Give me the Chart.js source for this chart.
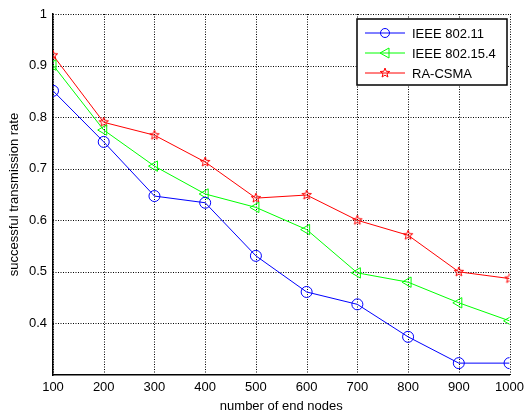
<!DOCTYPE html>
<html>
<head>
<meta charset="utf-8">
<script src="https://cdn.jsdelivr.net/npm/chart.js@4/dist/chart.umd.min.js"></script>
<style>
  html, body { margin: 0; padding: 0; background: #fff; }
  #wrap { width: 529px; height: 418px; }
</style>
</head>
<body>
<div id="wrap"><canvas id="lineChart" width="529" height="418"></canvas></div>
<script>
const nodes = [100, 200, 300, 400, 500, 600, 700, 800, 900, 1000];
const ieee80211 = [0.851, 0.752, 0.647, 0.634, 0.531, 0.461, 0.437, 0.374, 0.323, 0.323];
const ieee802154 = [0.901, 0.775, 0.705, 0.651, 0.625, 0.582, 0.498, 0.480, 0.440, 0.405];
const raCsma = [0.920, 0.790, 0.765, 0.713, 0.643, 0.649, 0.600, 0.571, 0.500, 0.487];
const seriesNames = ["IEEE 802.11", "IEEE 802.15.4", "RA-CSMA"];
const yTicks = [0.4, 0.5, 0.6, 0.7, 0.8, 0.9, 1];

const FONT = "Liberation Sans, Arial, sans-serif";

// five-pointed star outline, MATLAB 'p' marker
function makeStar(color, r) {
  const c = document.createElement('canvas');
  const s = Math.ceil(r * 2 + 4);
  c.width = s; c.height = s;
  const g = c.getContext('2d');
  g.strokeStyle = color;
  g.lineWidth = 1;
  g.beginPath();
  for (let i = 0; i < 10; i++) {
    const rr = i % 2 === 0 ? r : r * 0.42;
    const a = -Math.PI / 2 + i * Math.PI / 5;
    const px = s / 2 + rr * Math.cos(a), py = s / 2 + rr * Math.sin(a);
    if (i === 0) g.moveTo(px, py); else g.lineTo(px, py);
  }
  g.closePath();
  g.stroke();
  return c;
}
const starRed = makeStar('#ff0000', 5);

const legendBox = {
  id: 'legendBox',
  afterDraw(chart) {
    const g = chart.ctx;
    const x0 = 357, y0 = 19, w = 150, h = 66;
    g.save();
    g.fillStyle = '#fff';
    g.fillRect(x0, y0, w, h);
    g.strokeStyle = '#000';
    g.lineWidth = 1.5;
    g.strokeRect(x0, y0, w, h);
    const rows = [
      { name: seriesNames[0], color: '#0000ff', mark: 'circle' },
      { name: seriesNames[1], color: '#00ff00', mark: 'tri' },
      { name: seriesNames[2], color: '#ff0000', mark: 'star' }
    ];
    rows.forEach((r, i) => {
      const y = y0 + 14 + i * 20;
      g.strokeStyle = r.color;
      g.lineWidth = 1;
      g.beginPath(); g.moveTo(365, y); g.lineTo(405, y); g.stroke();
      if (r.mark === 'circle') {
        g.beginPath(); g.arc(385, y, 4.5, 0, Math.PI * 2); g.stroke();
      } else if (r.mark === 'tri') {
        g.beginPath(); g.moveTo(380, y); g.lineTo(389, y - 5); g.lineTo(389, y + 5); g.closePath(); g.stroke();
      } else {
        g.drawImage(starRed, 385 - starRed.width / 2, y - starRed.height / 2);
      }
      g.fillStyle = '#000';
      g.font = '13px ' + FONT;
      g.textBaseline = 'middle';
      g.fillText(r.name, 412, y + 1);
    });
    g.restore();
  }
};

const ctx = document.getElementById('lineChart').getContext('2d');
const chart = new Chart(ctx, {
  type: 'line',
  data: {
    labels: nodes,
    datasets: [{
      label: seriesNames[0],
      data: ieee80211,
      borderColor: '#0000ff',
      borderWidth: 1,
      pointStyle: 'circle',
      pointRadius: 5.5,
      pointBorderWidth: 1,
      pointBorderColor: '#0000ff',
      pointBackgroundColor: 'rgba(0,0,0,0)',
      tension: 0
    }, {
      label: seriesNames[1],
      data: ieee802154,
      borderColor: '#00ff00',
      borderWidth: 1,
      pointStyle: 'triangle',
      pointRotation: 270,
      pointRadius: 6,
      pointBorderWidth: 1,
      pointBorderColor: '#00ff00',
      pointBackgroundColor: 'rgba(0,0,0,0)',
      tension: 0
    }, {
      label: seriesNames[2],
      data: raCsma,
      borderColor: '#ff0000',
      borderWidth: 1,
      pointStyle: starRed,
      tension: 0
    }]
  },
  options: {
    responsive: false,
    animation: false,
    layout: { padding: { top: 14, right: 16, left: 0, bottom: 0 } },
    plugins: {
      legend: { display: false },
      tooltip: { enabled: false }
    },
    scales: {
      x: {
        type: 'linear',
        min: 100, max: 1000,
        afterFit: s => { s.height = 43; },
        afterBuildTicks: s => { s.ticks = nodes.map(v => ({ value: v })); },
        ticks: { color: '#000', font: { family: FONT, size: 13 }, padding: 5, maxRotation: 0, autoSkip: false, callback: v => String(v) },
        grid: { display: false, drawTicks: false, tickLength: 0 },
        border: { display: true, color: '#000', width: 1.5 },
        title: { display: true, text: 'number of end nodes', color: '#000', font: { family: FONT, size: 13 }, padding: { top: 0, bottom: 4 } }
      },
      y: {
        min: 0.3, max: 1,
        afterFit: s => { s.width = 53; },
        afterBuildTicks: s => { s.ticks = [0.3].concat(yTicks).map(v => ({ value: v })); },
        ticks: {
          color: '#000', font: { family: FONT, size: 13 }, padding: 6,
          callback: v => (Math.abs(v - 0.3) < 1e-6 ? '' : String(Math.round(v * 10) / 10))
        },
        grid: { display: false, drawTicks: false, tickLength: 0 },
        border: { display: true, color: '#000', width: 1.5 },
        title: { display: true, text: 'successful transmission rate', color: '#000', font: { family: FONT, size: 13 }, padding: { top: 7, bottom: 2 } }
      }
    }
  },
  plugins: [{
    id: 'dotGrid',
    beforeDatasetsDraw(chart) {
      // dotted grid over the plot area, MATLAB style
      const g = chart.ctx, a = chart.chartArea;
      const xs = chart.scales.x, ys = chart.scales.y;
      g.save();
      g.strokeStyle = '#000';
      g.lineWidth = 1;
      g.setLineDash([1, 1.5]);
      nodes.forEach(v => {
        const px = Math.round(xs.getPixelForValue(v)) + 0.5;
        g.beginPath(); g.moveTo(px, a.top); g.lineTo(px, a.bottom); g.stroke();
      });
      yTicks.forEach(v => {
        const py = Math.round(ys.getPixelForValue(v)) + 0.5;
        g.beginPath(); g.moveTo(a.left, py); g.lineTo(a.right, py); g.stroke();
      });
      g.restore();
    }
  }, legendBox]
});
</script>
</body>
</html>
